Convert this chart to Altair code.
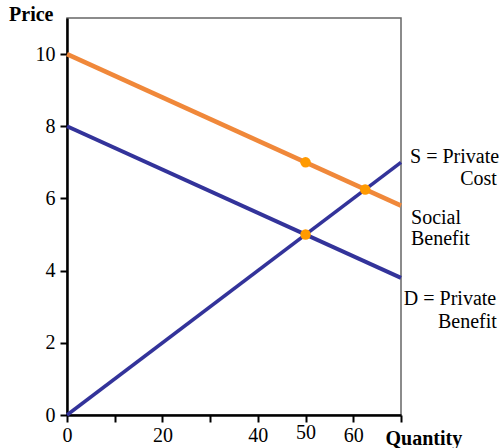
import altair as alt
import pandas as pd

# Line endpoints (data coords)
line_names = ["Social", "Social", "D", "D", "S", "S"]
line_x = [0, 70, 0, 70, 0, 70]
line_y = [10, 5.8, 8, 3.8, 0, 7]

# Highlighted points
pt_x = [50, 50, 62.5]
pt_y = [7, 5, 6.25]

# Annotations
ann_text = ["S = Private", "Cost", "Social", "Benefit", "D = Private", "Benefit"]
ann_x = [71.9, 90.1, 72.1, 72.1, 70.6, 90.1]
ann_y = [6.98, 6.37, 5.30, 4.72, 3.05, 2.41]
ann_align = ["left", "right", "left", "left", "left", "right"]

x_ticks = [0, 10, 20, 30, 40, 50, 60, 70]
x_labels = [0, 20, 40, 50, 60]
y_ticks = list(range(0, 11))
y_labels = [0, 2, 4, 6, 8, 10]

lines = pd.DataFrame({"name": line_names, "x": line_x, "y": line_y})
pts = pd.DataFrame({"x": pt_x, "y": pt_y})
ann = pd.DataFrame({"t": ann_text, "x": ann_x, "y": ann_y, "a": ann_align})

FONT = "Liberation Serif"
FS = 20

xscale = alt.Scale(domain=[0, 70], nice=False, zero=False)
yscale = alt.Scale(domain=[0, 11], nice=False)

xlab_expr = "indexof([" + ",".join(str(v) for v in x_labels) + "], datum.value) >= 0 ? datum.label : ''"
ylab_expr = "indexof([" + ",".join(str(v) for v in y_labels) + "], datum.value) >= 0 ? datum.label : ''"

xaxis = alt.Axis(values=x_ticks, labelExpr=xlab_expr, title="Quantity", grid=False,
                 domainColor="black", domainWidth=2.5, tickColor="black", tickWidth=2,
                 tickSize=7,
                 labelPadding={"condition": {"test": "datum.value === 50", "value": 0}, "value": 3},
                 labelFlush=False, titleAlign="left",
                 titleAnchor="start", titleX=318, titleY=29, titleBaseline="alphabetic")
yaxis = alt.Axis(values=y_ticks, labelExpr=ylab_expr, title="Price", grid=False,
                 domainColor="black", domainWidth=2.5, tickColor="black", tickWidth=2,
                 tickSize=7, labelPadding=5, labelFlush=False, titleAngle=0, titleAlign="right",
                 titleX=-14, titleY=2, titleBaseline="alphabetic")

line_layer = alt.Chart(lines).mark_line(strokeCap="butt").encode(
    x=alt.X("x:Q", scale=xscale, axis=xaxis),
    y=alt.Y("y:Q", scale=yscale, axis=yaxis),
    detail="name:N",
    color=alt.Color("name:N", scale=alt.Scale(domain=["Social", "D", "S"],
                                              range=["#F0883A", "#33339A", "#33339A"]), legend=None),
    strokeWidth=alt.StrokeWidth("name:N", scale=alt.Scale(domain=["Social", "D", "S"],
                                                          range=[4.5, 3.5, 3.5]), legend=None),
)

pt_layer = alt.Chart(pts).mark_circle(color="#FF9A00", opacity=1, size=110).encode(
    x=alt.X("x:Q", scale=xscale), y=alt.Y("y:Q", scale=yscale)
)

txt_left = alt.Chart(ann[ann.a == "left"]).mark_text(font=FONT, fontSize=FS, color="black",
                                                     baseline="alphabetic", align="left").encode(
    x=alt.X("x:Q", scale=xscale), y=alt.Y("y:Q", scale=yscale), text="t:N")
txt_right = alt.Chart(ann[ann.a == "right"]).mark_text(font=FONT, fontSize=FS, color="black",
                                                       baseline="alphabetic", align="right").encode(
    x=alt.X("x:Q", scale=xscale), y=alt.Y("y:Q", scale=yscale), text="t:N")

chart = alt.layer(line_layer, pt_layer, txt_left, txt_right).properties(
    width=334, height=397,
    autosize=alt.AutoSizeParams(type="none"),
    padding={"left": 67, "top": 18, "right": 98, "bottom": 33},
    background="white",
).configure_view(stroke="#666", strokeWidth=1.5).configure_axis(
    labelFont=FONT, labelFontSize=FS, labelColor="black",
    titleFont=FONT, titleFontSize=FS, titleFontWeight="bold", titleColor="black",
)

chart.save("out.html", embed_options={"renderer": "svg", "actions": False})
